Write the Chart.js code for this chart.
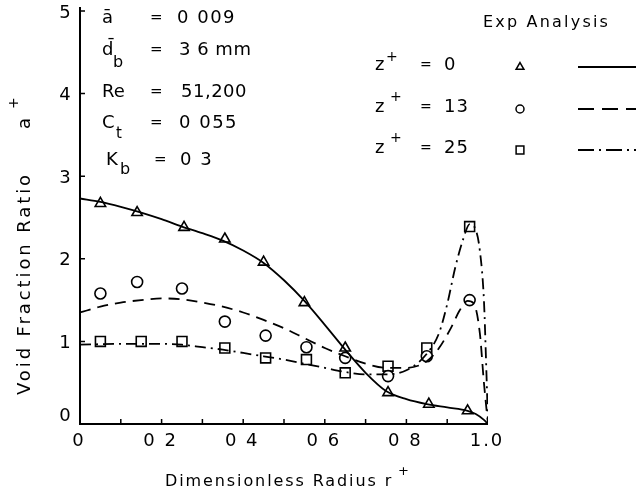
<!DOCTYPE html>
<html>
<head>
<meta charset="utf-8">
<script src="https://cdn.jsdelivr.net/npm/chart.js@4.4.1/dist/chart.umd.min.js"></script>
<style>
  html, body { margin: 0; padding: 0; background: #fff; }
  #wrap { width: 638px; height: 497px; }
</style>
</head>
<body>
<div id="wrap"><canvas id="chart" width="638" height="497"></canvas></div>
<script>
// measured points (Exp)
const triR = [0.05, 0.14, 0.255, 0.355, 0.45, 0.55, 0.65, 0.755, 0.855, 0.95];
const triV = [2.67, 2.56, 2.38, 2.24, 1.96, 1.47, 0.92, 0.38, 0.24, 0.16];
const circR = [0.05, 0.14, 0.25, 0.355, 0.455, 0.555, 0.65, 0.755, 0.85, 0.955];
const circV = [1.58, 1.72, 1.64, 1.24, 1.07, 0.93, 0.80, 0.58, 0.82, 1.50];
const sqR = [0.05, 0.15, 0.25, 0.355, 0.455, 0.555, 0.65, 0.755, 0.85, 0.955];
const sqV = [1.0, 1.0, 1.0, 0.92, 0.80, 0.78, 0.62, 0.70, 0.92, 2.39];

// analysis curves
const solidR = [0, 0.05, 0.1, 0.15, 0.2, 0.25, 0.3, 0.35, 0.4, 0.45, 0.5, 0.55, 0.6, 0.65, 0.7, 0.75, 0.8, 0.85, 0.9, 0.95, 0.97, 0.99, 1.0];
const solidV = [2.73, 2.69, 2.63, 2.56, 2.48, 2.39, 2.31, 2.22, 2.1, 1.95, 1.74, 1.49, 1.2, 0.9, 0.62, 0.4, 0.3, 0.24, 0.2, 0.16, 0.12, 0.05, 0];
const dashR = [0, 0.05, 0.1, 0.15, 0.2, 0.25, 0.3, 0.35, 0.4, 0.45, 0.5, 0.55, 0.6, 0.65, 0.7, 0.75, 0.8, 0.85, 0.88, 0.91, 0.93, 0.95, 0.965, 0.98, 0.99, 1.0];
const dashV = [1.35, 1.42, 1.47, 1.5, 1.52, 1.51, 1.47, 1.42, 1.35, 1.26, 1.16, 1.04, 0.92, 0.82, 0.73, 0.68, 0.68, 0.76, 0.92, 1.17, 1.37, 1.49, 1.46, 1.1, 0.5, 0];
const dashdotR = [0, 0.1, 0.2, 0.25, 0.3, 0.35, 0.4, 0.45, 0.5, 0.55, 0.6, 0.65, 0.7, 0.75, 0.8, 0.85, 0.88, 0.9, 0.92, 0.94, 0.955, 0.97, 0.98, 0.99, 0.995, 1.0];
const dashdotV = [0.96, 0.97, 0.97, 0.96, 0.93, 0.9, 0.86, 0.82, 0.78, 0.73, 0.68, 0.63, 0.6, 0.6, 0.65, 0.85, 1.1, 1.45, 1.9, 2.25, 2.42, 2.35, 2.1, 1.5, 0.8, 0];

// ticks
const xTicks = [0, 0.2, 0.4, 0.6, 0.8, 1.0];
const xTickLabels = ['0', '0 2', '0 4', '0 6', '0 8', '1.0'];
const xMinor = [0.1, 0.2, 0.3, 0.4, 0.5, 0.6, 0.7, 0.8, 0.9];
const yTicks = [0, 1, 2, 3, 4, 5];
const yTickLabels = ['0', '1', '2', '3', '4', '5'];

const legendRows = ['0', '13', '25'];

const pts = (rs, vs) => rs.map((r, i) => ({ x: r, y: vs[i] }));
const FONT = '"DejaVu Sans", sans-serif';

const lineDashes = [[], [11, 7], [11, 5, 2, 5]];
const markerStyles = ['triangle', 'circle', 'rect'];
const markerSizes = [6, 5.5, 7];

function curve(data, dash) {
  return {
    data: data, showLine: true, borderColor: '#000', borderWidth: 1.8,
    borderDash: dash, pointRadius: 0, cubicInterpolationMode: 'monotone', fill: false
  };
}
function marks(data, i) {
  return {
    data: data, showLine: false, pointStyle: markerStyles[i], pointRadius: markerSizes[i],
    pointBorderColor: '#000', pointBackgroundColor: '#fff', pointBorderWidth: 1.6
  };
}

function txt(ctx, s, x, y, size, align, spacing) {
  ctx.font = size + 'px ' + FONT;
  ctx.textAlign = align || 'left';
  ctx.textBaseline = 'middle';
  ctx.letterSpacing = (spacing || 0) + 'px';
  ctx.fillText(s, x, y);
}

const decor = {
  id: 'decor',
  afterDraw(chart) {
    const ctx = chart.ctx;
    const xs = chart.scales.x, ys = chart.scales.y;
    const x0 = xs.getPixelForValue(0), y0 = ys.getPixelForValue(0);
    const x1 = xs.getPixelForValue(1), y5 = ys.getPixelForValue(5);
    ctx.save();
    ctx.fillStyle = '#000';
    ctx.strokeStyle = '#000';

    // axes
    ctx.lineWidth = 2;
    ctx.beginPath();
    ctx.moveTo(x0, y5 - 4); ctx.lineTo(x0, y0); ctx.lineTo(x1, y0);
    ctx.stroke();

    // inward ticks
    ctx.lineWidth = 1.5;
    ctx.beginPath();
    xMinor.forEach(v => {
      const px = xs.getPixelForValue(v);
      ctx.moveTo(px, y0); ctx.lineTo(px, y0 - 5);
    });
    yTicks.forEach(v => {
      const py = ys.getPixelForValue(v);
      ctx.moveTo(x0, py); ctx.lineTo(x0 + 5, py);
    });
    ctx.stroke();

    // tick labels
    xTicks.forEach((v, i) => txt(ctx, xTickLabels[i], xs.getPixelForValue(v) - 1, y0 + 17, 18, 'center', 2));
    yTicks.forEach((v, i) => txt(ctx, yTickLabels[i], x0 - 15, ys.getPixelForValue(v) + (v === 0 ? -8 : 2), 18, 'center'));

    // axis titles
    txt(ctx, 'Dimensionless Radius r', 165, 482, 16, 'left', 1.9);
    txt(ctx, '+', 398, 472, 13, 'left');
    ctx.save();
    ctx.translate(25, 395);
    ctx.rotate(-Math.PI / 2);
    txt(ctx, 'Void Fraction Ratio', 0, 0, 18, 'left', 2.9);
    txt(ctx, 'a', 266, 0, 18, 'left');
    txt(ctx, '+', 286, -11, 14, 'left');
    ctx.restore();

    // parameter block
    const lx = 102, ex = 150, vx = 177;
    txt(ctx, '\u0101', lx, 18, 18, 'left');
    txt(ctx, '=', ex, 18, 15, 'left');
    txt(ctx, '0 009', vx, 18, 18, 'left', 1.5);
    txt(ctx, 'd\u0304', lx, 50, 18, 'left');
    txt(ctx, 'b', lx + 11, 63, 16, 'left');
    txt(ctx, '=', ex, 50, 15, 'left');
    txt(ctx, '3 6 mm', vx + 2, 50, 18, 'left', 0.5);
    txt(ctx, 'Re', lx, 92, 18, 'left');
    txt(ctx, '=', ex, 92, 15, 'left');
    txt(ctx, '51,200', vx + 4, 92, 18, 'left', 0.5);
    txt(ctx, 'C', lx, 123, 18, 'left');
    txt(ctx, 't', lx + 14, 134, 15, 'left');
    txt(ctx, '=', ex, 123, 15, 'left');
    txt(ctx, '0 055', vx + 2, 123, 18, 'left', 1.5);
    txt(ctx, 'K', lx + 4, 160, 18, 'left');
    txt(ctx, 'b', lx + 18, 170, 16, 'left');
    txt(ctx, '=', ex + 4, 160, 15, 'left');
    txt(ctx, '0 3', vx + 3, 160, 18, 'left', 1.5);

    // legend
    txt(ctx, 'Exp Analysis', 483, 23, 16, 'left', 2.2);
    const rowY = [65, 107, 148];
    legendRows.forEach((lab, i) => {
      const y = rowY[i];
      txt(ctx, 'z', 375, y, 18, 'left');
      txt(ctx, '+', 386 + (i > 0 ? 4 : 0), y - 8 - (i > 0 ? 2 : 0), 14, 'left');
      txt(ctx, '=', 420, y, 14, 'left');
      txt(ctx, lab, 444, y, 18, 'left', 1);
      ctx.save();
      ctx.fillStyle = '#fff';
      Chart.helpers.drawPoint(ctx, {
        pointStyle: markerStyles[i], radius: markerSizes[i] - 1.5, borderWidth: 1.5
      }, 520, y + 2);
      ctx.restore();
      ctx.save();
      ctx.setLineDash(lineDashes[i].length ? lineDashes[i].map((d, k) => (k % 2 === 0 && d > 5 ? 16 : d + (i === 1 ? 1 : 0))) : []);
      ctx.lineWidth = 1.8;
      ctx.beginPath();
      ctx.moveTo(578, y + 2); ctx.lineTo(636, y + 2);
      ctx.stroke();
      ctx.restore();
    });
    ctx.restore();
  }
};

new Chart(document.getElementById('chart'), {
  type: 'scatter',
  data: {
    datasets: [
      curve(pts(solidR, solidV), lineDashes[0]),
      curve(pts(dashR, dashV), lineDashes[1]),
      curve(pts(dashdotR, dashdotV), lineDashes[2]),
      marks(pts(triR, triV), 0),
      marks(pts(circR, circV), 1),
      marks(pts(sqR, sqV), 2)
    ]
  },
  options: {
    responsive: false,
    animation: false,
    events: [],
    layout: { padding: { left: 80, right: 150, top: 11, bottom: 73 } },
    plugins: { legend: { display: false }, tooltip: { enabled: false } },
    scales: {
      x: {
        type: 'linear', min: 0, max: 1.0,
        grid: { display: false, drawTicks: false },
        border: { display: false },
        ticks: { display: false }
      },
      y: {
        type: 'linear', min: 0, max: 5,
        grid: { display: false, drawTicks: false },
        border: { display: false },
        ticks: { display: false }
      }
    }
  },
  plugins: [decor]
});
</script>
</body>
</html>
